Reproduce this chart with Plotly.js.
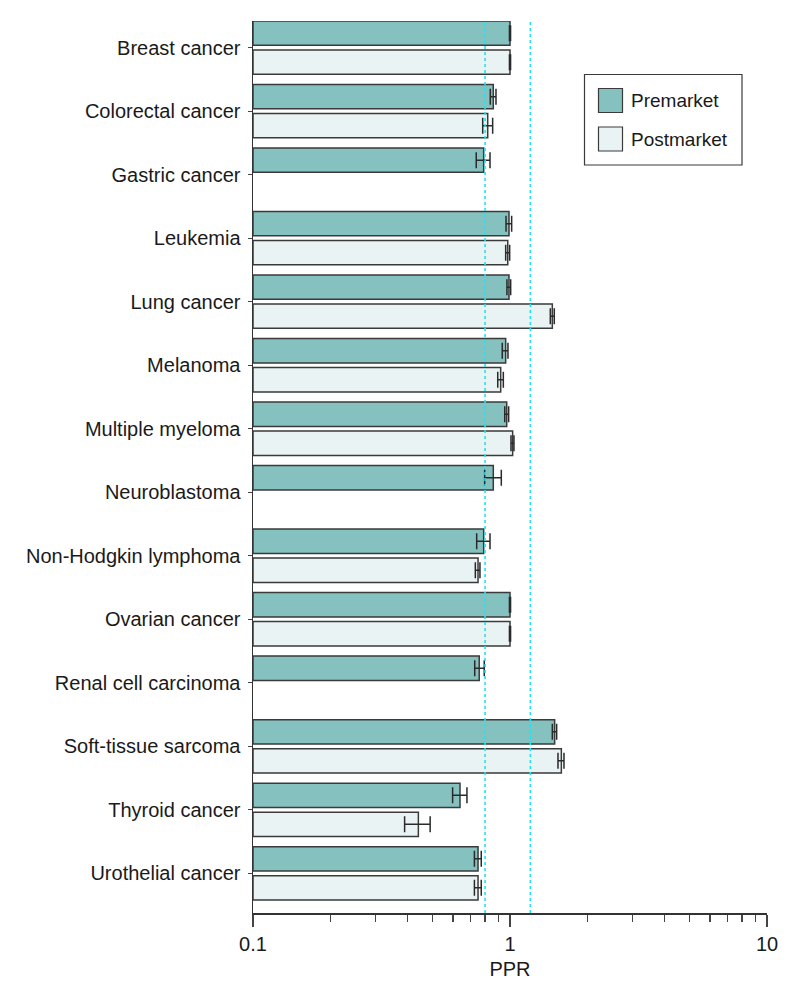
<!DOCTYPE html>
<html>
<head>
<meta charset="utf-8">
<script src="https://cdn.plot.ly/plotly-3.0.1.min.js"></script>
<style>
  html, body { margin: 0; padding: 0; background: #ffffff; }
  #chart { width: 794px; height: 997px; }
</style>
</head>
<body>
<div id="chart"></div>
<script>
// ---- Data ----
const categories = [
  "Breast cancer", "Colorectal cancer", "Gastric cancer", "Leukemia", "Lung cancer",
  "Melanoma", "Multiple myeloma", "Neuroblastoma", "Non-Hodgkin lymphoma",
  "Ovarian cancer", "Renal cell carcinoma", "Soft-tissue sarcoma",
  "Thyroid cancer", "Urothelial cancer"
];
const premarket      = [1.000, 0.861, 0.790, 0.991, 0.991, 0.962, 0.971, 0.861, 0.790, 1.000, 0.759, 1.492, 0.639, 0.751];
const premarketLow   = [0.995, 0.838, 0.739, 0.965, 0.973, 0.933, 0.954, 0.797, 0.742, 0.995, 0.729, 1.461, 0.598, 0.727];
const premarketHigh  = [1.005, 0.882, 0.836, 1.015, 1.006, 0.982, 0.988, 0.925, 0.836, 1.005, 0.794, 1.519, 0.680, 0.773];
const postmarket     = [1.000, 0.819, null, 0.980, 1.461, 0.920, 1.024, null, 0.751, 1.000, null, 1.584, 0.440, 0.751];
const postmarketLow  = [0.995, 0.783, null, 0.962, 1.435, 0.896, 1.009, null, 0.733, 0.995, null, 1.537, 0.389, 0.727];
const postmarketHigh = [1.005, 0.856, null, 0.997, 1.487, 0.942, 1.036, null, 0.764, 1.005, null, 1.622, 0.489, 0.773];
const seriesNames = ["Premarket", "Postmarket"];
const referenceLines = [0.8, 1.2];
const xTickVals = [0.1, 1, 10];
const xTickText = ["0.1", "1", "10"];
const xMinorTicks = [0.2, 0.3, 0.4, 0.5, 0.6, 0.7, 0.8, 0.9, 2, 3, 4, 5, 6, 7, 8, 9];
const barBase = 0.1;

// ---- Styles ----
const FONT = '"Liberation Sans", Arial, sans-serif';
const TEXT = '#1a1a1a';
const EDGE = '#3a3a3a';
const colors = ['#85c1bf', '#eaf3f3'];

function sizes(vals) { return vals.map(v => v == null ? null : v - barBase); }
function plus(vals, hi) { return vals.map((v, i) => v == null ? null : hi[i] - v); }
function minus(vals, lo) { return vals.map((v, i) => v == null ? null : v - lo[i]); }

function barTrace(name, vals, lo, hi, color) {
  return {
    type: 'bar',
    orientation: 'h',
    name: name,
    y: categories,
    x: sizes(vals),
    base: barBase,
    marker: { color: color, line: { color: EDGE, width: 1.5 } },
    error_x: {
      type: 'data', symmetric: false,
      array: plus(vals, hi), arrayminus: minus(vals, lo),
      color: '#2a2a2a', thickness: 1.5, width: 8
    },
    showlegend: false,
    hoverinfo: 'x+y+name'
  };
}

const data = [
  barTrace(seriesNames[0], premarket, premarketLow, premarketHigh, colors[0]),
  barTrace(seriesNames[1], postmarket, postmarketLow, postmarketHigh, colors[1])
];

// plot geometry helpers (pixel -> paper) for the custom legend
const L = 253, R = 767, T = 21, B = 913;
const px = x => (x - L) / (R - L);
const py = y => (B - y) / (B - T);

const shapes = referenceLines.map(v => ({
  type: 'line', xref: 'x', yref: 'paper', x0: v, x1: v, y0: 0, y1: 1,
  line: { color: '#22e4f0', width: 1.6, dash: 'dot' }, layer: 'above'
}));

// custom legend box + swatches
shapes.push({
  type: 'rect', xref: 'paper', yref: 'paper',
  x0: px(584.5), x1: px(742), y0: py(165), y1: py(74.5),
  line: { color: EDGE, width: 1.2 }, fillcolor: 'rgba(255,255,255,1)', layer: 'above'
});
const swatchTops = [88.5, 127];
seriesNames.forEach((n, i) => {
  shapes.push({
    type: 'rect', xref: 'paper', yref: 'paper',
    x0: px(598.5), x1: px(622.5), y0: py(swatchTops[i] + 24), y1: py(swatchTops[i]),
    line: { color: EDGE, width: 1.2 }, fillcolor: colors[i], layer: 'above'
  });
});
const annotations = seriesNames.map((n, i) => ({
  xref: 'paper', yref: 'paper', x: px(629), y: py(swatchTops[i] + 12),
  xanchor: 'left', yanchor: 'middle', text: n, showarrow: false,
  font: { family: FONT, size: 19, color: TEXT }
}));

const layout = {
  width: 794, height: 997,
  margin: { l: L, r: 794 - R, t: T, b: 997 - B, pad: 0 },
  paper_bgcolor: '#ffffff', plot_bgcolor: '#ffffff',
  font: { family: FONT, size: 20, color: TEXT },
  barmode: 'group',
  bargap: 0.0866,
  bargroupgap: 0.162,
  showlegend: false,
  xaxis: {
    type: 'log', range: [-1, 1],
    tickmode: 'array', tickvals: xTickVals, ticktext: xTickText,
    ticks: 'outside', ticklen: 12, tickwidth: 1.5, tickcolor: '#444',
    minor: { tickvals: xMinorTicks, ticks: 'outside', ticklen: 7, tickwidth: 1.2, tickcolor: '#444', showgrid: false },
    showline: true, linecolor: '#333', linewidth: 1.5,
    showgrid: false, zeroline: false,
    tickfont: { family: FONT, size: 20, color: TEXT },
    title: { text: 'PPR', font: { family: FONT, size: 20, color: TEXT }, standoff: 8 },
    automargin: false
  },
  yaxis: {
    type: 'category',
    range: [13.625, -0.42],
    ticks: 'outside', ticklen: 4, tickwidth: 1.2, tickcolor: '#444',
    ticklabelstandoff: 3,
    showline: true, linecolor: '#333', linewidth: 1.5,
    showgrid: false, zeroline: false,
    tickfont: { family: FONT, size: 20, color: TEXT },
    automargin: false
  },
  shapes: shapes,
  annotations: annotations
};

Plotly.newPlot('chart', data, layout, { displayModeBar: false, staticPlot: true });
</script>
</body>
</html>
